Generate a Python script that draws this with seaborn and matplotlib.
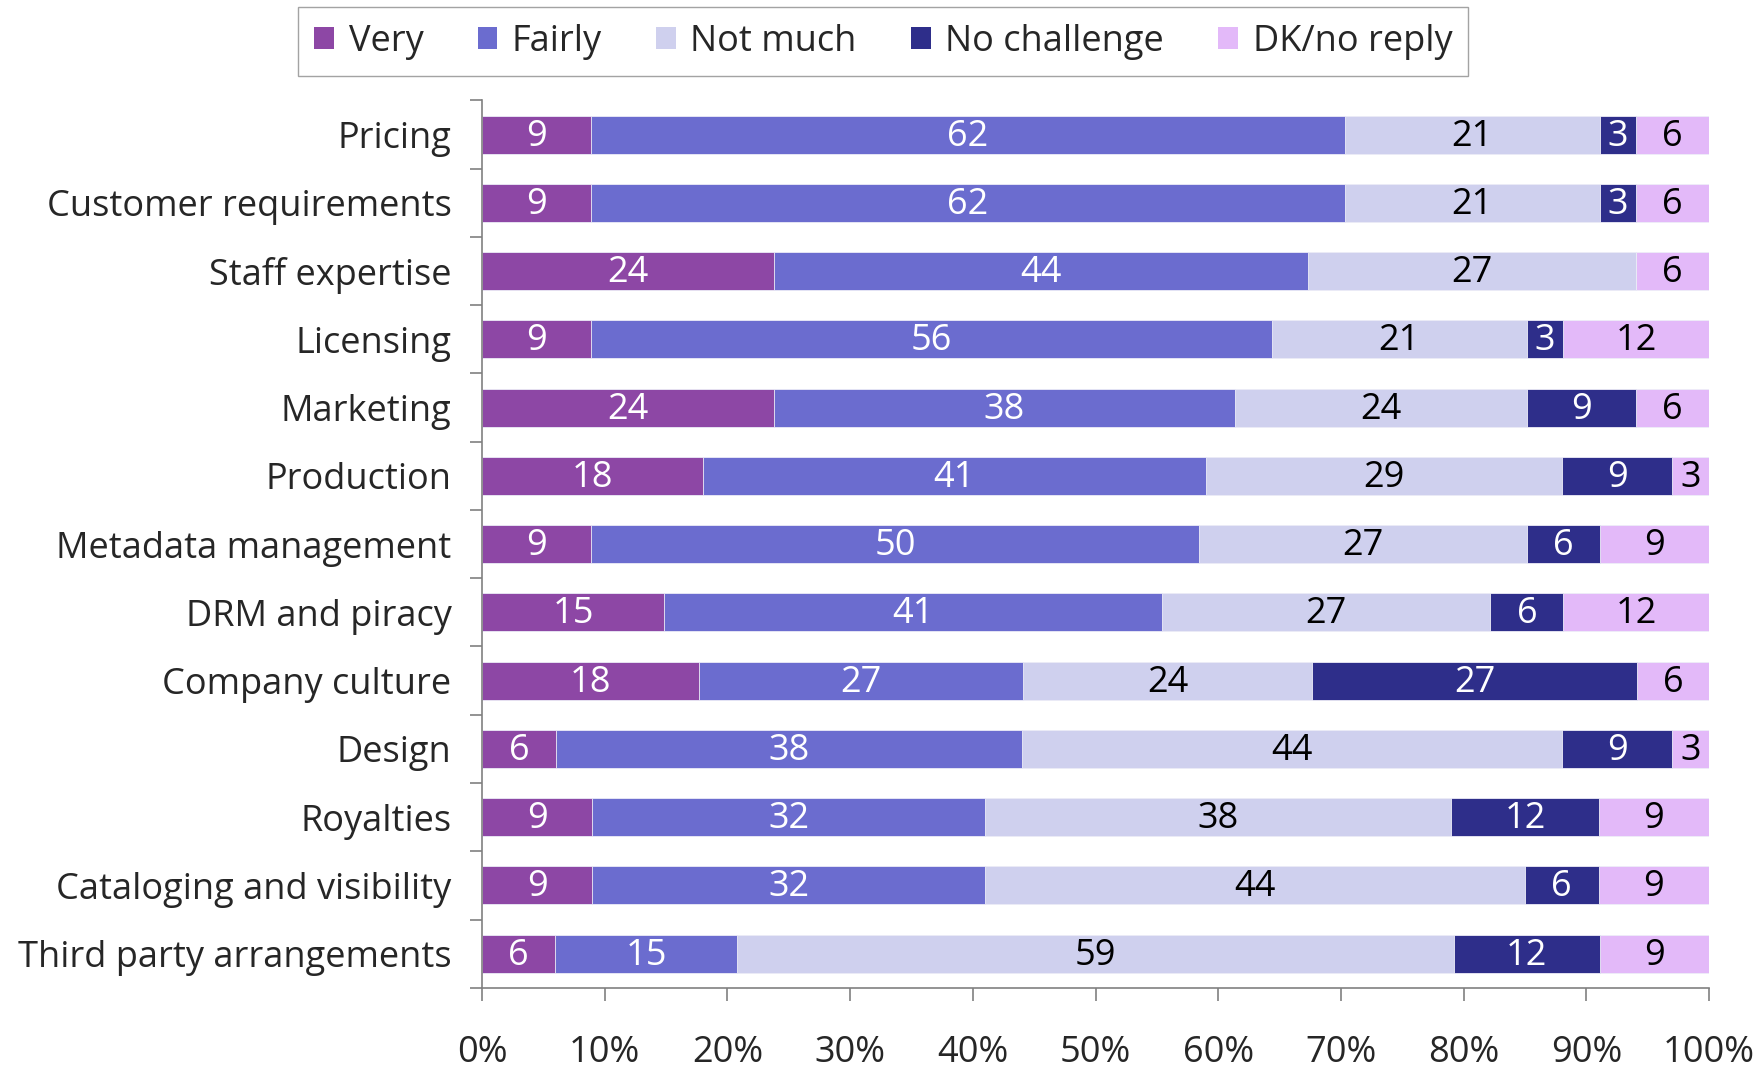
import numpy as np
import pandas as pd
import seaborn as sns
import matplotlib.pyplot as plt
from matplotlib.patches import Patch

# ---------------------------------------------------------
# Data (rounded percentages as printed on the bars)
# ---------------------------------------------------------
categories = ["Pricing", "Customer requirements", "Staff expertise", "Licensing",
              "Marketing", "Production", "Metadata management", "DRM and piracy",
              "Company culture", "Design", "Royalties", "Cataloging and visibility",
              "Third party arrangements"]
series = ["Very", "Fairly", "Not much", "No challenge", "DK/no reply"]

very = [9, 9, 24, 9, 24, 18, 9, 15, 18, 6, 9, 9, 6]
fairly = [62, 62, 44, 56, 38, 41, 50, 41, 27, 38, 32, 32, 15]
not_much = [21, 21, 27, 21, 24, 29, 27, 27, 24, 44, 38, 44, 59]
no_challenge = [3, 3, 0, 3, 9, 9, 6, 6, 27, 9, 12, 6, 12]
dk = [6, 6, 6, 12, 6, 3, 9, 12, 6, 3, 9, 9, 9]

colors = ["#8D47A5", "#6B6CCF", "#CFD0EE", "#2E2E8A", "#E3B9F9"]
text_colors = ["white", "white", "black", "white", "black"]

# ---------------------------------------------------------
# Build 100% stacked table
# ---------------------------------------------------------
vals = np.array([very, fairly, not_much, no_challenge, dk], dtype=float).T
pct = vals / vals.sum(axis=1, keepdims=True) * 100
cum = np.cumsum(pct, axis=1)

df = pd.DataFrame(cum, columns=series)
df["category"] = categories

sns.set_style("white")
plt.rcParams["font.family"] = ["Open Sans", "DejaVu Sans"]

fs = 26

fig = plt.figure(figsize=(17.63, 10.69), dpi=100)
ax = fig.add_axes([0.2734, 0.076, 0.696, 0.830])

# draw from the widest cumulative layer down so each segment shows through
for i in range(len(series) - 1, -1, -1):
    sns.barplot(data=df, x=series[i], y="category", order=categories, orient="h",
                color=colors[i], saturation=1, width=0.56, edgecolor="#EEEEF8",
                linewidth=0.6, ax=ax)

# value labels
for r in range(len(categories)):
    for i in range(len(series)):
        if vals[r, i] == 0:
            continue
        start = cum[r, i] - pct[r, i]
        ax.text(start + pct[r, i] / 2, r + 0.03, f"{int(vals[r, i])}", ha="center",
                va="center", fontsize=fs, color=text_colors[i])

ax.set_xlim(0, 100)
ax.set_ylim(len(categories) - 0.5, -0.5)
ax.set_xlabel("")
ax.set_ylabel("")
ax.set_xticks(np.arange(0, 101, 10))
ax.set_xticklabels([f"{t}%" for t in range(0, 101, 10)])
ax.set_yticks(np.arange(-0.5, len(categories), 1), minor=True)

for s in ["top", "right"]:
    ax.spines[s].set_visible(False)
for s in ["left", "bottom"]:
    ax.spines[s].set_color("#808080")
    ax.spines[s].set_linewidth(1.2)

ax.tick_params(axis="x", which="major", direction="out", length=9, width=1.2,
               color="#808080", labelsize=fs, pad=25, bottom=True)
ax.tick_params(axis="y", which="major", length=0, labelsize=fs, pad=22)
ax.tick_params(axis="y", which="minor", direction="out", length=9, width=1.2,
               color="#808080", left=True)

handles = [Patch(facecolor=c, edgecolor="none") for c in colors]
fig.legend(handles, series, loc="center", bbox_to_anchor=(0.501, 0.961), ncol=5,
           fontsize=fs, frameon=True, fancybox=False, edgecolor="#8C8C8C",
           handlelength=0.55, handleheight=0.55, handletextpad=0.4, columnspacing=1.5,
           borderpad=0.45)

fig.savefig("out.png", dpi=100)
